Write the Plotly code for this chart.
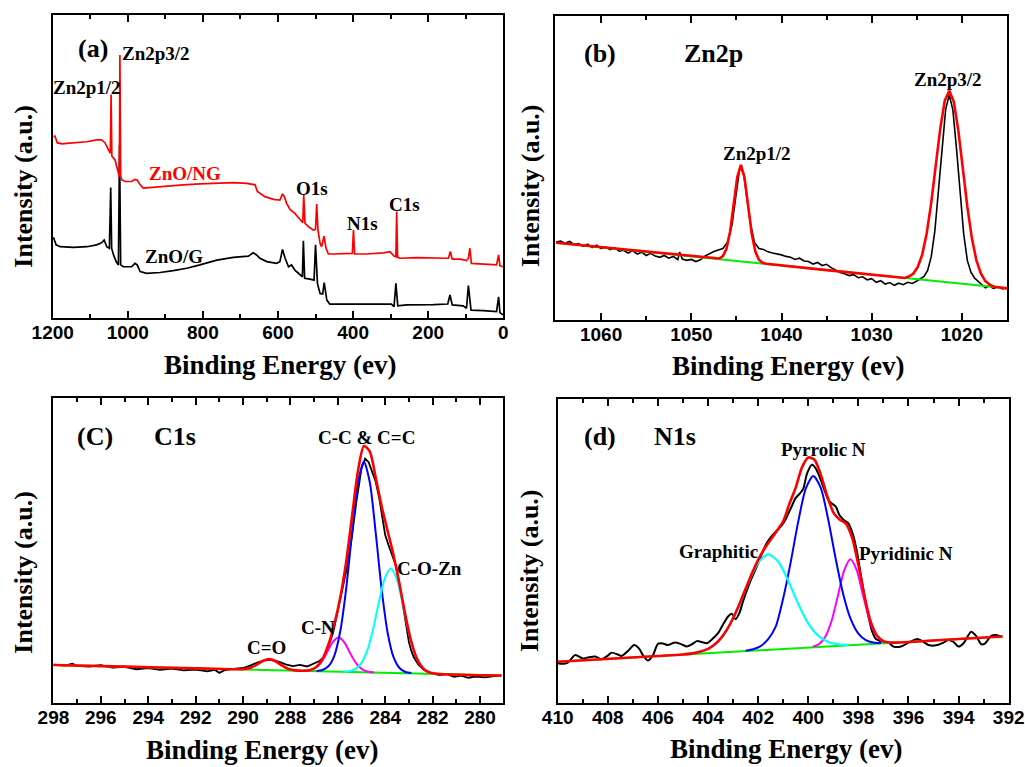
import plotly.graph_objects as go

W, H = 1025, 767

# ---------------- data (x = binding energy, eV ; y = intensity, a.u. 0-100) ----------------
# (a) survey spectra
a_zno_ng = [(1198,59.9),(1194,60.1),(1188,57.9),(1176,57.5),(1163,57.7),(1136,57.9),(1109,58.2),(1083,58.8),
            (1070,58.8),(1061,57.9),(1054,56.0),(1049,54.9),(1046.5,54.4),(1044.5,73.8),(1042.5,53.5),(1034,52.2),
            (1030,50.0),(1025,47.8),(1022.5,46.7),(1021,86.8),(1019,46.7),(1015.4,45.6),(1007,45.1),(990,45.1),
            (981,45.8),(975,45.6),(967,44.0),(959,42.9),(932,43.2),(896,43.4),(852,44.0),(808,44.3),(763,44.5),
            (719,44.7),(683,44.5),(661,44.0),(655,41.8),(648,41.2),(635,40.1),(612,39.2),(595,39.0),(588,41.0),
            (583,40.1),(577,37.9),(568,35.9),(555,34.6),(541,32.4),(534,31.5),(531.5,40.7),(528,31.3),(519,30.2),
            (506,29.1),(500,29.3),(497,37.7),(493.5,29.1),(488,24.7),(484,23.6),(477.5,27.1),(472,23.1),(466,21.2),
            (453,21.2),(408,21.2),(402,21.4),(399,29.1),(396,21.2),(364,21.2),(319,21.6),(302,22.0),(291,20.5),
            (286,20.3),(284,35.2),(281.5,20.1),(275,19.8),(231,20.0),(186,20.0),(146,19.8),(141,22.0),(136,19.5),
            (115,19.5),(98,19.0),(93,19.8),(89,23.1),(85,18.1),(53,17.9),(18,17.6),(12.5,20.9),(9,17.3),(1,17.0)]
a_zno_g = [(1198,26.7),(1196,26.0),(1191,24.2),(1180,23.6),(1145,23.4),(1109,23.6),(1083,24.2),(1070,24.9),
           (1063,25.8),(1056,23.6),(1049,23.1),(1045.5,43.1),(1043,23.1),(1038,20.9),(1031,18.7),(1025,17.6),
           (1022,57.1),(1019,17.6),(1012,17.0),(990,17.0),(981,18.1),(975,17.6),(967,15.4),(950,14.8),(914,15.1),
           (879,15.7),(843,16.5),(808,17.6),(763,19.2),(719,20.1),(679,20.5),(666,21.6),(657,20.9),(648,19.8),
           (630,18.7),(604,18.1),(595,18.7),(588,22.7),(581,19.8),(572,17.0),(564,17.6),(555,15.9),(541,14.3),
           (535,13.7),(532.5,25.6),(529,13.2),(515,12.9),(504,12.6),(500,24.2),(495,11.5),(488,8.2),(481,8.0),
           (477,11.8),(470,6.0),(462,4.7),(408,4.7),(364,4.7),(311,4.9),(298,4.7),(291,3.8),(286,11.5),(281,4.1),
           (257,4.4),(186,4.5),(148,4.7),(142,7.7),(136,4.4),(107,4.1),(98,3.3),(93,10.8),(86,2.7),(53,2.5),
           (18,2.2),(12.5,7.1),(9,1.9),(1,1.1)]

# (b) Zn2p
b_raw = [(1065,25.6),(1064.5,25.9),(1064,25.2),(1063.5,25.8),(1063,24.8),(1062.5,25.1),(1062,24.2),(1061.5,24.9),
         (1061,23.8),(1060.5,24.6),(1060,23.5),(1059.5,24.0),(1059,23.1),(1058.5,23.8),(1058,22.6),(1057.5,22.9),
         (1057,22.0),(1056.5,22.8),(1056,21.7),(1055.5,22.3),(1055,21.2),(1054.5,21.9),(1054,21.0),(1053.5,20.6),
         (1053,21.2),(1052.5,20.3),(1052,20.9),(1051.5,19.8),(1051.3,22.3),(1051,20.0),(1050.5,19.6),(1050,19.9),
         (1049.5,19.2),(1049,19.8),(1048.5,21.0),(1048,21.8),(1047.5,22.5),(1047,23.0),(1046.5,23.5),(1046,25.5),
         (1045.5,31.0),(1045,42.0),(1044.6,50.5),(1044.2,48.0),(1043.8,40.0),(1043.4,31.0),(1043,25.5),(1042.5,23.5),
         (1042,23.2),(1041.5,22.4),(1041,22.0),(1040.5,21.8),(1040,21.4),(1039.5,20.9),(1039,20.6),(1038.5,19.9),
         (1038,20.3),(1037.5,19.4),(1037,19.2),(1036.5,18.4),(1036,18.9),(1035.5,17.9),(1035,18.3),(1034.5,17.2),
         (1034,16.4),(1033.5,15.6),(1033,15.2),(1032.5,14.6),(1032,14.9),(1031.5,13.9),(1031,14.2),(1030.5,13.2),
         (1030,13.6),(1029.5,12.4),(1029,12.9),(1028.5,11.8),(1028,12.3),(1027.5,11.4),(1027,12.1),(1026.5,11.6),
         (1026,12.4),(1025.5,12.0),(1025,12.8),(1024.6,13.7),(1024.2,14.3),(1023.8,16.3),(1023.4,20.8),(1023.0,29.2),
         (1022.6,41.8),(1022.2,56.8),(1021.8,69.2),(1021.4,74.0),(1021.0,69.0),(1020.6,56.3),(1020.2,41.1),
         (1019.8,28.2),(1019.4,19.6),(1019.0,15.7),(1018.6,13.8),(1018.2,12.6),(1017.8,11.6),(1017.4,10.6),
         (1017.0,11.2),(1016.5,10.4),(1016.0,10.9),(1015.5,10.2),(1015.1,10.6)]
b_fit = [(1065,25.4),(1055,22.4),(1047.3,20.1),(1046.9,20.2),(1046.5,21.0),(1046.1,23.4),(1045.7,29.0),(1045.3,38.0),
         (1044.9,47.1),(1044.5,51.0),(1044.1,46.8),(1043.7,37.5),(1043.3,28.3),(1042.9,22.5),(1042.5,19.8),
         (1042.1,18.8),(1041.7,18.5),(1035,16.4),(1026.3,13.8),(1025.9,14.3),(1025.4,15.2),(1024.9,17.4),
         (1024.4,21.5),(1023.9,28.5),(1023.4,38.5),(1022.9,50.8),(1022.4,62.9),(1021.9,72.1),(1021.4,75.3),
         (1020.9,71.8),(1020.4,62.3),(1019.9,49.9),(1019.4,37.3),(1018.9,27.0),(1018.4,19.7),(1017.9,15.3),
         (1017.4,12.8),(1016.9,11.6),(1016.4,10.9),(1015,10.4)]
b_base = [(1065,25.4),(1015,10.4)]

# (c) C1s
c_raw = [(298,12.5),(297.5,12.2),(297.2,12.8),(297,12.1),(296.5,11.9),(296,12.3),(295.5,11.5),(295,11.8),
         (294.5,11.0),(294,11.4),(293.5,10.8),(293,11.2),(292.5,10.6),(292,10.9),(291.5,10.3),(291.2,10.8),
         (291,9.8),(290.8,10.6),(290.5,11.0),(290,11.4),(289.7,12.2),(289.4,13.2),(289.1,13.9),(288.8,14.1),
         (288.5,13.5),(288.2,12.6),(287.9,12.0),(287.6,12.4),(287.3,11.9),(287,12.8),(286.8,13.6),(286.6,14.8),
         (286.4,18.5),(286.2,23.0),(286,30.0),(285.8,37.5),(285.6,45.0),(285.4,55.0),(285.2,67.0),(285,77.0),
         (284.85,80.2),(284.7,79.0),(284.55,76.0),(284.4,72.5),(284.25,67.0),(284.1,60.0),(284,55.0),(283.85,51.5),
         (283.7,48.5),(283.55,45.0),(283.4,39.0),(283.25,32.0),(283.1,23.5),(283,19.8),(282.9,17.0),(282.8,15.0),
         (282.6,12.5),(282.4,11.0),(282.2,10.0),(282,9.6),(281.7,9.1),(281.4,9.4),(281.1,8.5),(280.8,8.9),
         (280.5,8.2),(280.2,8.6),(279.8,8.3),(279.4,8.7),(279.1,8.9)]
c_fit = [(298,12.4),(295,11.84),(292,11.29),(290.4,10.99),(290.15,10.99),(289.9,11.11),(289.65,11.59),(289.4,12.58),
         (289.15,13.78),(288.9,14.32),(288.65,13.69),(288.4,12.40),(288.15,11.31),(287.9,10.75),(287.65,10.53),
         (287.4,10.51),(287.15,10.76),(286.9,11.77),(286.65,14.32),(286.4,19.05),(286.15,25.76),(285.9,34.46),
         (285.65,46.24),(285.4,61.29),(285.15,76.21),(284.9,84.32),(284.65,82.47),(284.4,73.81),(284.15,64.45),
         (283.9,56.4),(283.65,48.46),(283.4,39.01),(283.15,28.7),(282.9,19.97),(282.65,14.21),(282.4,11.24),
         (282.15,10.01),(281.9,9.56),(281.5,9.36),(279.1,8.92)]
c_base = [(298,12.4),(279.1,8.92)]
c_cc = [(286.9,10.45),(286.65,10.75),(286.4,11.96),(286.15,15.42),(285.9,23.37),(285.65,37.42),(285.4,55.78),
        (285.15,72.43),(284.9,79.19),(284.65,72.34),(284.4,55.59),(284.15,37.15),(283.9,23.0),(283.65,14.96),
        (283.4,11.41),(283.15,10.1),(282.9,9.72)]
c_coz = [(285.77,10.21),(285.52,10.36),(285.27,11.0),(285.02,12.85),(284.77,16.92),(284.52,23.92),(284.27,32.87),
         (284.02,40.83),(283.77,44.08),(283.52,40.73),(283.27,32.69),(283.02,23.64),(282.77,16.55),(282.52,12.39),
         (282.27,10.45),(282.02,9.72),(281.77,9.47)]
c_cn = [(287.47,10.50),(287.22,10.65),(286.97,11.32),(286.72,13.11),(286.47,16.31),(286.22,19.83),(285.97,21.38),
        (285.72,19.73),(285.47,16.13),(285.22,12.83),(284.97,10.95),(284.72,10.19),(284.47,9.94)]

# (d) N1s
d_raw = [(410.0,13.0),(409.8,12.8),(409.6,13.2),(409.3,15.7),(409.0,14.6),(408.8,14.9),(408.5,15.2),(408.25,14.3),
         (408.0,15.5),(407.85,16.5),(407.6,15.9),(407.45,15.4),(407.2,17.0),(406.95,19.0),(406.75,17.8),(406.6,15.7),
         (406.4,13.9),(406.2,15.6),(406.0,19.4),(405.8,19.5),(405.6,19.0),(405.35,19.8),(405.1,19.4),(404.85,18.5),
         (404.65,19.2),(404.45,20.3),(404.25,20.0),(404.05,19.6),(403.85,20.8),(403.6,22.9),(403.4,25.8),(403.2,28.4),
         (403.05,29.3),(402.9,27.5),(402.75,29.5),(402.6,33.5),(402.45,37.0),(402.3,40.2),(402.1,44.0),(401.9,48.0),
         (401.7,52.0),(401.5,54.5),(401.3,56.3),(401.1,58.0),(400.9,60.5),(400.7,64.0),(400.5,67.5),(400.35,68.8),
         (400.2,70.5),(400.05,75.5),(399.85,78.4),(399.7,77.2),(399.55,74.5),(399.35,70.0),(399.2,66.8),(399.05,65.6),
         (398.9,64.6),(398.75,61.8),(398.55,60.0),(398.4,59.1),(398.2,55.0),(398.05,49.5),(397.9,42.0),(397.75,35.0),
         (397.6,28.5),(397.45,23.5),(397.3,21.0),(397.15,20.4),(397.0,20.0),(396.8,19.8),(396.6,18.5),(396.3,18.5),
         (396.0,19.8),(395.65,21.0),(395.45,20.3),(395.2,19.0),(394.9,18.9),(394.6,19.8),(394.4,20.7),(394.2,20.0),
         (394.0,18.5),(393.8,19.6),(393.5,23.4),(393.3,22.0),(393.1,19.3),(392.95,19.5),(392.7,22.0),(392.5,22.3),
         (392.3,21.8)]
d_fit = [(410,13.5),(406,15.37),(405,15.9),(404.5,16.42),(404,17.75),(403.75,19.08),(403.5,21.1),(403.25,24.0),
         (403,27.82),(402.75,32.46),(402.5,37.52),(402.25,42.58),(402,47.09),(401.75,50.75),(401.5,53.71),
         (401.25,56.71),(401,59.8),(400.75,65.62),(400.5,70.9),(400.25,77.55),(400,80.83),(399.75,80.07),
         (399.5,75.16),(399.25,68.29),(399,62.76),(398.75,60.37),(398.5,59.05),(398.25,54.46),(398,45.42),
         (397.75,34.83),(397.5,26.56),(397.25,22.04),(397,20.29),(396.75,19.83),(396.5,19.8),(394,21.0),(392.24,21.8)]
d_base = [(410,13.5),(392.24,21.8)]
d_pyrrolic = [(402.5,17.12),(402.2,17.59),(401.9,18.65),(401.6,20.95),(401.3,25.04),(401.0,34.4),(400.7,46.34),
              (400.4,59.68),(400.1,70.52),(399.8,74.76),(399.5,70.8),(399.2,60.24),(398.9,47.18),(398.6,35.62),
              (398.3,27.44),(398.0,22.77),(397.7,20.61),(397.4,19.82),(397.1,19.64)]
d_graphitic = [(404.8,16.06),(404.4,16.6),(404.0,17.75),(403.6,20.2),(403.2,24.68),(402.8,31.44),(402.4,39.42),
               (402.0,46.14),(401.6,48.92),(401.2,46.51),(400.8,40.16),(400.4,32.56),(400.0,26.17),(399.6,22.06),
               (399.2,19.99),(398.8,19.21),(398.4,19.04)]
d_pyridinic = [(399.82,18.46),(399.57,19.32),(399.32,21.71),(399.07,26.94),(398.82,35.16),(398.57,43.54),
               (398.32,47.25),(398.07,43.77),(397.82,35.63),(397.57,27.64),(397.32,22.64),(397.07,20.49),(396.82,19.86)]

# axis ranges / ticks
ranges = {1: [1200, 0], 2: [1065.08, 1015.0], 3: [298.03, 279.02], 4: [410, 392]}
dticks = {1: (200, 100), 2: (10, 5), 3: (2, 1), 4: (2, 1)}

# labels: (panel, x, y, text, size, color)
labels = [
    (1, 1093, 89.0, "(a)", 26, "black"), (1, 926, 87.4, "Zn2p3/2", 19, "black"),
    (1, 1108.6, 76.2, "Zn2p1/2", 19, "black"), (1, 846.7, 47.8, "ZnO/NG", 19, "#ff0000"),
    (1, 877.8, 20.3, "ZnO/G", 19, "black"), (1, 508.6, 42.9, "O1s", 19, "black"),
    (1, 376.3, 31.1, "N1s", 19, "black"), (1, 261.8, 37.4, "C1s", 19, "black"),
    (2, 1060.07, 87.6, "(b)", 26, "black"), (2, 1047.5, 87.6, "Zn2p", 26, "black"),
    (2, 1021.5, 78.9, "Zn2p3/2", 19, "black"), (2, 1042.7, 54.8, "Zn2p1/2", 19, "black"),
    (3, 296.24, 87.6, "(C)", 26, "black"), (3, 292.88, 87.6, "C1s", 26, "black"),
    (3, 284.81, 87.2, "C-C &amp; C=C", 19, "black"), (3, 282.14, 44.1, "C-O-Zn", 19, "black"),
    (3, 289.01, 18.2, "C=O", 19, "black"), (3, 286.82, 24.8, "C-N", 19, "black"),
    (4, 408.33, 87.7, "(d)", 26, "black"), (4, 405.32, 87.7, "N1s", 26, "black"),
    (4, 399.38, 83.3, "Pyrrolic N", 19, "black"), (4, 403.57, 49.8, "Graphitic", 19, "black"),
    (4, 396.08, 49.2, "Pyridinic N", 19, "black"),
]

# ---------------- figure ----------------
RED, BLACK, GREEN, BLUE, CYAN, MAG = "#ff0000", "#000000", "#00ee00", "#0000ff", "#00ffff", "#ff00ff"
SERIF = "Liberation Serif"
SANS = "Liberation Sans"

fig = go.Figure()


def add(pairs, panel, color, width, shape="linear"):
    xs = [p[0] for p in pairs]
    ys = [p[1] for p in pairs]
    line = dict(color=color, width=width, shape=shape)
    if shape == "spline":
        line["smoothing"] = 0.7
    sfx = "" if panel == 1 else str(panel)
    fig.add_trace(go.Scatter(x=xs, y=ys, mode="lines", line=line, xaxis="x" + sfx, yaxis="y" + sfx,
                             showlegend=False, hoverinfo="skip"))


add(a_zno_g, 1, BLACK, 1.7)
add(a_zno_ng, 1, RED, 1.7)

add(b_raw, 2, BLACK, 1.6)
add(b_base, 2, GREEN, 2)
add(b_fit, 2, RED, 2.6)

add(c_raw, 3, BLACK, 1.8)
add(c_base, 3, GREEN, 2)
add(c_cn, 3, MAG, 2, "spline")
add(c_cc, 3, BLUE, 2, "spline")
add(c_coz, 3, CYAN, 2, "spline")
add(c_fit, 3, RED, 2.6, "spline")

add(d_raw, 4, BLACK, 2, "spline")
add(d_base, 4, GREEN, 2)
add(d_pyridinic, 4, MAG, 2, "spline")
add(d_pyrrolic, 4, BLUE, 2, "spline")
add(d_graphitic, 4, CYAN, 2.2, "spline")
add(d_fit, 4, RED, 2.6, "spline")

boxes = {1: (52.7, 503.3, 15.0, 318.3), 2: (555.3, 1007.0, 15.7, 320.0),
         3: (52.7, 503.3, 398.3, 702.7), 4: (557.7, 1008.7, 399.3, 702.7)}

layout = dict(width=W, height=H, margin=dict(l=0, r=0, t=0, b=0, autoexpand=False), paper_bgcolor="white",
              plot_bgcolor="white", showlegend=False)
for p, (x0, x1, y0, y1) in boxes.items():
    sfx = "" if p == 1 else str(p)
    dt, mdt = dticks[p]
    layout["xaxis" + sfx] = dict(
        domain=[x0 / W, x1 / W], range=ranges[p], anchor="y" + sfx, dtick=dt, tick0=0,
        showline=True, linecolor="black", linewidth=2, mirror="ticks",
        ticks="inside", ticklen=7, tickwidth=2, tickcolor="black",
        minor=dict(dtick=mdt, ticks="inside", ticklen=4, tickwidth=1.5, tickcolor="black", showgrid=False),
        showgrid=False, zeroline=False, ticklabelstandoff=-4, automargin=False,
        tickfont=dict(family=SANS, size=19, color="black", weight="bold"),
    )
    layout["yaxis" + sfx] = dict(
        domain=[1 - y1 / H, 1 - y0 / H], range=[0, 100], anchor="x" + sfx,
        showline=True, linecolor="black", linewidth=2, mirror=True, automargin=False,
        ticks="", showticklabels=False, showgrid=False, zeroline=False,
    )
fig.update_layout(**layout)

# axis titles
xt = {1: (280, 365), 2: (788, 366), 3: (262, 750), 4: (786, 749)}
yt = {1: (22.7, 186), 2: (530, 186), 3: (22.7, 572), 4: (529, 571)}
for p in boxes:
    fig.add_annotation(x=xt[p][0] / W, y=1 - xt[p][1] / H, xref="paper", yref="paper", showarrow=False,
                       text="<b>Binding Energy (ev)</b>", font=dict(family=SERIF, size=27, color="black"),
                       xanchor="center", yanchor="middle")
    fig.add_annotation(x=yt[p][0] / W, y=1 - yt[p][1] / H, xref="paper", yref="paper", showarrow=False,
                       text="<b>Intensity (a.u.)</b>", font=dict(family=SERIF, size=26, color="black"),
                       textangle=-90, xanchor="center", yanchor="middle")

for p, x, y, t, s, c in labels:
    sfx = "" if p == 1 else str(p)
    fig.add_annotation(x=x, y=y, xref="x" + sfx, yref="y" + sfx, showarrow=False, text=f"<b>{t}</b>",
                       font=dict(family=SERIF, size=s, color=c), xanchor="center", yanchor="middle")

fig.write_html("out.html", config={"displayModeBar": False},
               post_script="document.body.style.margin='0px';document.body.style.padding='0px';")
